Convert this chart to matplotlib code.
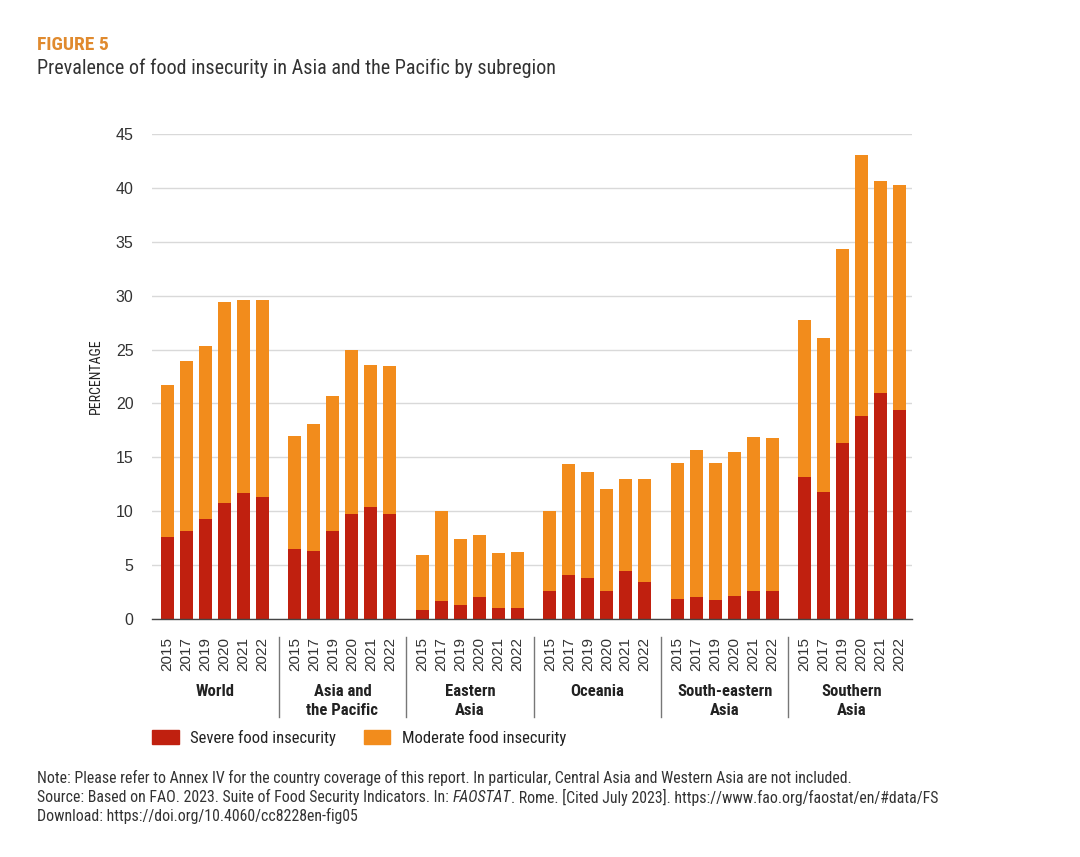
import numpy as np
import matplotlib
matplotlib.use('Agg')
import matplotlib.pyplot as plt
from matplotlib.patches import Patch

NARROW = ['Roboto Condensed', 'DejaVu Sans']
REGULAR = ['Liberation Sans', 'DejaVu Sans']
plt.rcParams['font.family'] = REGULAR

SEVERE_COLOR = '#C0200F'
MODERATE_COLOR = '#F28C1C'

years = ['2015', '2017', '2019', '2020', '2021', '2022']
regions = ['World', 'Asia and\nthe Pacific', 'Eastern\nAsia', 'Oceania',
           'South-eastern\nAsia', 'Southern\nAsia']

# total (moderate or severe) food insecurity, percent
total = [
    [21.7, 23.9, 25.3, 29.4, 29.6, 29.6],   # World
    [17.0, 18.1, 20.7, 25.0, 23.6, 23.5],   # Asia and the Pacific
    [5.9, 10.0, 7.4, 7.8, 6.1, 6.2],        # Eastern Asia
    [10.0, 14.4, 13.6, 12.1, 13.0, 13.0],   # Oceania
    [14.5, 15.7, 14.5, 15.5, 16.9, 16.8],   # South-eastern Asia
    [27.7, 26.1, 34.3, 43.1, 40.6, 40.3],   # Southern Asia
]
# severe food insecurity, percent
severe = [
    [7.6, 8.2, 9.3, 10.8, 11.7, 11.3],
    [6.5, 6.3, 8.2, 9.7, 10.4, 9.7],
    [0.8, 1.7, 1.3, 2.0, 1.0, 1.0],
    [2.6, 4.1, 3.8, 2.6, 4.5, 3.4],
    [1.9, 2.0, 1.8, 2.1, 2.6, 2.6],
    [13.2, 11.8, 16.3, 18.8, 21.0, 19.4],
]

GROUP_GAP = 1.71  # extra slots between subregions

fig = plt.figure(figsize=(10.8, 8.57), dpi=100)
ax = fig.add_axes([0.1405, 0.2777, 0.7037, 0.5659])

xpos, xlabels = [], []
sev_vals, mod_vals = [], []
group_centers = []
for g in range(len(regions)):
    start = g * (len(years) - 1 + GROUP_GAP)
    xs = [start + i for i in range(len(years))]
    xpos += xs
    xlabels += years
    sev_vals += severe[g]
    mod_vals += [t - s for t, s in zip(total[g], severe[g])]
    group_centers.append(np.mean(xs))
xpos = np.array(xpos)

ax.bar(xpos, sev_vals, width=0.68, color=SEVERE_COLOR, zorder=3)
ax.bar(xpos, mod_vals, width=0.68, bottom=sev_vals, color=MODERATE_COLOR, zorder=3)

ax.set_ylim(0, 45)
ax.set_xlim(-0.83, xpos[-1] + 0.64)
ax.set_yticks(np.arange(0, 46, 5))
ax.yaxis.grid(True, color='#d9d9d9', linewidth=1.0, zorder=0)
ax.set_axisbelow(True)
for side in ['top', 'right', 'left']:
    ax.spines[side].set_visible(False)
ax.spines['bottom'].set_color('#444444')
ax.spines['bottom'].set_linewidth(1.0)
ax.spines['bottom'].set_zorder(4)

ax.set_xticks(xpos)
ax.set_xticklabels(xlabels, rotation=90, fontsize=11, color='#333333')
ax.tick_params(axis='x', length=0, pad=13)
ax.tick_params(axis='y', length=0, pad=13, labelsize=11.5, labelcolor='#333333')

ax.set_ylabel('PERCENTAGE', family=NARROW, fontsize=10, color='#222222', labelpad=9)

# subregion names and separators below the axis
trans = ax.get_xaxis_transform()
for c, name in zip(group_centers, regions):
    ax.text(c, -0.134, name, transform=trans, ha='center', va='top',
            fontsize=12, fontweight='bold', family=NARROW, color='#222222',
            linespacing=1.3)
for g in range(1, len(regions)):
    sep = (xpos[g * 6 - 1] + xpos[g * 6]) / 2
    ax.plot([sep, sep], [-0.037, -0.202], transform=trans, color='#777777',
            linewidth=1.0, clip_on=False)

handles = [Patch(color=SEVERE_COLOR, label='Severe food insecurity'),
           Patch(color=MODERATE_COLOR, label='Moderate food insecurity')]
leg = fig.legend(handles=handles, loc='center left', bbox_to_anchor=(0.1407, 0.139),
                 ncol=2, frameon=False, borderpad=0, borderaxespad=0,
                 handlelength=1.6, handleheight=0.85, handletextpad=0.7,
                 columnspacing=1.65, prop={'family': NARROW, 'size': 12})
for t in leg.get_texts():
    t.set_color('#222222')

fig.text(0.034, 0.948, 'FIGURE 5', fontsize=14, fontweight='bold', family=NARROW,
         color='#E08A2E', va='center')
fig.text(0.034, 0.920, 'Prevalence of food insecurity in Asia and the Pacific by subregion',
         fontsize=14.5, family=NARROW, color='#333333', va='center')

# footnotes; each line is a list of (text, style) pieces laid out left to right
notes = [
    [('Note: Please refer to Annex IV for the country coverage of this report. '
      'In particular, Central Asia and Western Asia are not included.', 'normal')],
    [('Source: Based on FAO. 2023. Suite of Food Security Indicators. In: ', 'normal'),
     ('FAOSTAT', 'italic'),
     ('. Rome. [Cited July 2023]. https://www.fao.org/faostat/en/#data/FS', 'normal')],
    [('Download: https://doi.org/10.4060/cc8228en-fig05', 'normal')],
]
renderer = fig.canvas.get_renderer()
for i, pieces in enumerate(notes):
    x = 0.034
    y = 1 - (778 + 19 * i) / 857
    for txt, style in pieces:
        t = fig.text(x, y, txt, fontsize=11.4, family=NARROW, style=style,
                     color='#333333', va='center')
        bb = t.get_window_extent(renderer=renderer)
        x += bb.width / fig.bbox.width

fig.savefig('out.png', dpi=100)
